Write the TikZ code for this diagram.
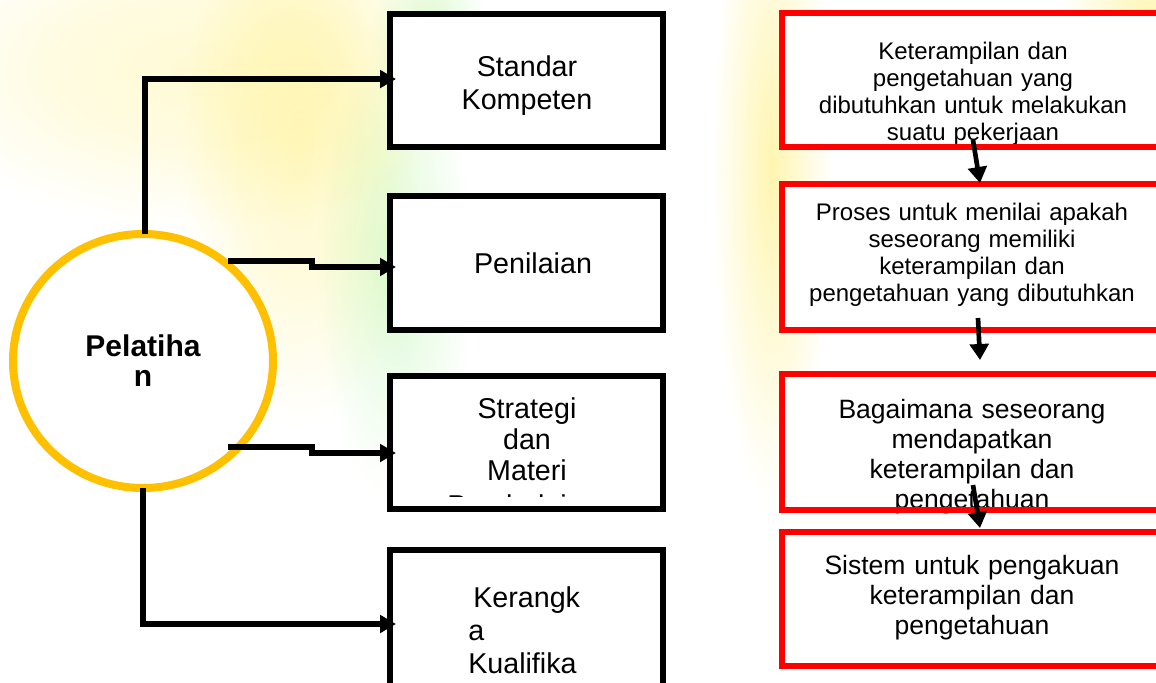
\documentclass[tikz,border=0pt]{standalone}
\usepackage{fontspec}
\setmainfont{Liberation Sans}
\usetikzlibrary{arrows.meta,shapes.geometric}
\definecolor{ringorange}{HTML}{FFC000}
\definecolor{boxred}{HTML}{FF0000}
\definecolor{wmyellow}{HTML}{FFF5B0}
\definecolor{wmyellowc}{HTML}{FFF9CC}
\definecolor{wmyellowb}{HTML}{FFFAD4}
\definecolor{wmgreen}{HTML}{D9FAD2}
\pgfdeclareradialshading{blobY}{\pgfpointorigin}{color(0bp)=(wmyellow); color(10bp)=(wmyellow!60!white); color(25bp)=(white); color(50bp)=(white)}
\pgfdeclareradialshading{blobYc}{\pgfpointorigin}{color(0bp)=(wmyellowc); color(12bp)=(wmyellowc!65!white); color(25bp)=(white); color(50bp)=(white)}
\pgfdeclareradialshading{blobYb}{\pgfpointorigin}{color(0bp)=(wmyellowb); color(12bp)=(wmyellowb!70!white); color(25bp)=(white); color(50bp)=(white)}
\pgfdeclareradialshading{blobG}{\pgfpointorigin}{color(0bp)=(wmgreen); color(10bp)=(wmgreen!55!white); color(25bp)=(white); color(50bp)=(white)}
\tikzset{
  conn/.style={draw=black, line width=4.5pt, -{Triangle[length=12pt,width=13pt]}, shorten >=-4.5pt},
  flow/.style={draw=black, line width=3.5pt, -{Triangle[length=12pt,width=14pt]}},
  blackbox/.style={rectangle, draw=black, fill=white, line width=4.5pt, minimum width=204.75pt, inner sep=0pt, outer sep=0pt},
  redbox/.style={rectangle, fill=white, minimum width=294.75pt, inner sep=0pt, outer sep=0pt},
  redline/.style={draw=boxred, line width=4.5pt},
  btext/.style={font=\fontsize{21.5pt}{24.75pt}\selectfont, text width=200pt, align=center, inner sep=0pt, anchor=base},
  rtexta/.style={font=\fontsize{18pt}{20.4pt}\selectfont, text width=285pt, align=center, inner sep=0pt, anchor=base},
  rtextb/.style={font=\fontsize{19.9pt}{22.5pt}\selectfont, text width=285pt, align=center, inner sep=0pt, anchor=base},
}
\begin{document}
\begin{tikzpicture}[x=0.75pt,y=-0.75pt]
\useasboundingbox (0,0) rectangle (1156,682);
\fill[white] (0,0) rectangle (1156,682);
% faint watermark
\begin{scope}[blend mode=multiply]
\shade[shading=blobYb] (200,70) ellipse [x radius=300, y radius=160];
\shade[shading=blobYc] (300,150) ellipse [x radius=120, y radius=280];
\shade[shading=blobG] (395,270) ellipse [x radius=80, y radius=230];
\shade[shading=blobG] (430,40) ellipse [x radius=60, y radius=110];
\shade[shading=blobY] (772,170) ellipse [x radius=60, y radius=340];
\shade[shading=blobY] (1150,20) ellipse [x radius=90, y radius=90];
\end{scope}
% black boxes
\node[blackbox, minimum height=99.75pt] (b1) at (526.5,80.5) {};
\node[blackbox, minimum height=100.5pt] (b2) at (526.5,263) {};
\node[blackbox, minimum height=99.75pt] (b3) at (526.5,442.5) {};
\node[blackbox, minimum height=135pt] (b4) at (526.5,640) {};
% circle
\node[ellipse, draw=ringorange, fill=white, line width=6pt, minimum width=195pt, minimum height=190.5pt, inner sep=0pt, outer sep=0pt, font=\bfseries\fontsize{22.5pt}{22.5pt}\selectfont, text width=100pt, align=center] (circ) at (143,361) {Pelatiha\\n};
% texts in black boxes
\node[btext] (t1) at (527,76) {Standar\\Kompeten};
\node[btext] (t2) at (533,273) {Penilaian};
\node[btext, font=\fontsize{21.5pt}{23.6pt}\selectfont] (t3) at (527,418) {Strategi\\dan\\Materi};
\begin{scope}
\clip (400,380) rectangle (655,496);
\node[font=\fontsize{21.5pt}{24.75pt}\selectfont, inner sep=0pt, anchor=base west] (t3x) at (447,515) {Pembelajaran};
\end{scope}
\node[btext, align=left, anchor=base west] (t4) at (468,607) {\hspace*{3.75pt}Kerangk\\a\\Kualifika};
% connectors from the circle
\draw[conn] ([xshift=1.5pt]circ.north) |- ([yshift=1.1pt]b1.west);
\coordinate (c2) at (228,261);
\draw[conn] (c2) -- ++(84,0) -- ++(0,6) -- ([yshift=-3pt]b2.west);
\coordinate (c3) at (228,447);
\draw[conn] (c3) -- ++(84,0) -- ++(0,6) -- ([yshift=-7.875pt]b3.west);
\draw[conn] (circ.south) |- ([yshift=12pt]b4.west);
% red boxes
\node[redbox, minimum height=100.5pt] (r1) at (978.5,80) {};
\node[redbox, minimum height=109.5pt] (r2) at (978.5,257) {};
\node[redbox, minimum height=102pt] (r3) at (978.5,442) {};
\node[redbox, minimum height=100.5pt] (r4) at (978.5,599) {};
\node[rtexta] (rt1) at (973,59) {Keterampilan dan\\pengetahuan yang\\dibutuhkan untuk melakukan\\suatu pekerjaan};
\node[rtexta] (rt2) at (972,220) {Proses untuk menilai apakah\\seseorang memiliki\\keterampilan dan\\pengetahuan yang dibutuhkan};
\node[rtextb] (rt3) at (972,418) {Bagaimana seseorang\\mendapatkan\\keterampilan dan\\pengetahuan};
\node[rtextb] (rt4) at (972,574) {Sistem untuk pengakuan\\keterampilan dan\\pengetahuan};
\draw[redline] (r1.south west) rectangle (r1.north east);
\draw[redline] (r2.south west) rectangle (r2.north east);
\draw[redline] (r3.south west) rectangle (r3.north east);
\draw[redline] (r4.south west) rectangle (r4.north east);
% arrows between red boxes
\coordinate (a1s) at (973,140); \coordinate (a1e) at (980,183);
\coordinate (a2s) at (978,318); \coordinate (a2e) at (980,360);
\coordinate (a3s) at (973,485); \coordinate (a3e) at (980,528);
\draw[flow] (a1s) -- (a1e);
\draw[flow] (a2s) -- (a2e);
\draw[flow] (a3s) -- (a3e);
\end{tikzpicture}
\end{document}
